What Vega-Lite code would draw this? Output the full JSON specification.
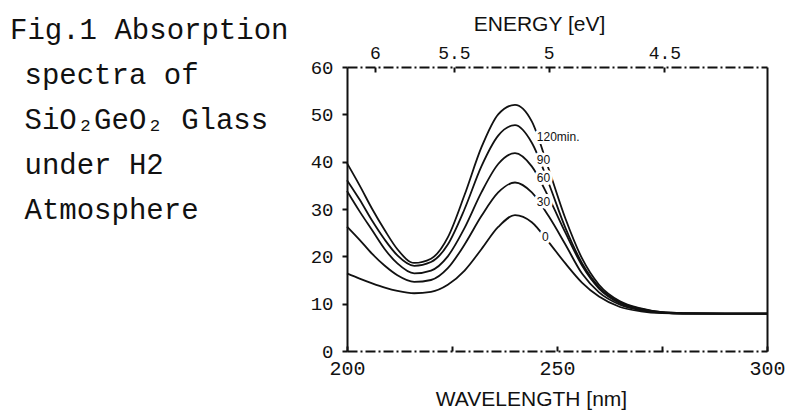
{
  "$schema": "https://vega.github.io/schema/vega-lite/v6.json",
  "width": 420,
  "height": 284,
  "autosize": "none",
  "padding": {"left": 347, "top": 67, "right": 21, "bottom": 61},
  "background": "white",
  "title": {
    "text": ["Fig.1 Absorption", "\u200b\u2002spectra of", "\u200b\u2002SiO\u2082GeO\u2082 Glass", "\u200b\u2002under H2", "\u200b\u2002Atmosphere"],
    "orient": "top",
    "anchor": "start",
    "frame": "group",
    "align": "left",
    "baseline": "top",
    "font": "Liberation Mono",
    "fontSize": 29,
    "fontWeight": "normal",
    "color": "#111111",
    "lineHeight": 45,
    "offset": 0,
    "dx": -337,
    "dy": 212
  },
  "config": {
    "view": {"stroke": null},
    "axis": {"grid": false, "domainColor": "#111111", "tickColor": "#111111", "labelColor": "#111111", "titleColor": "#111111"}
  },
  "datasets": {
    "spectra": [
      {"minutes": 120, "wavelength": 200, "absorption": 39.7},
      {"minutes": 120, "wavelength": 203, "absorption": 35.0},
      {"minutes": 120, "wavelength": 206, "absorption": 30.0},
      {"minutes": 120, "wavelength": 209, "absorption": 25.5},
      {"minutes": 120, "wavelength": 212, "absorption": 21.5},
      {"minutes": 120, "wavelength": 216, "absorption": 18.6},
      {"minutes": 120, "wavelength": 220, "absorption": 19.5},
      {"minutes": 120, "wavelength": 224, "absorption": 24.0},
      {"minutes": 120, "wavelength": 228, "absorption": 33.0},
      {"minutes": 120, "wavelength": 232, "absorption": 43.0},
      {"minutes": 120, "wavelength": 236, "absorption": 50.0},
      {"minutes": 120, "wavelength": 240, "absorption": 52.0},
      {"minutes": 120, "wavelength": 244, "absorption": 48.5},
      {"minutes": 120, "wavelength": 248, "absorption": 38.5},
      {"minutes": 120, "wavelength": 252, "absorption": 28.0},
      {"minutes": 120, "wavelength": 256, "absorption": 19.5},
      {"minutes": 120, "wavelength": 260, "absorption": 14.0},
      {"minutes": 120, "wavelength": 265, "absorption": 10.5},
      {"minutes": 120, "wavelength": 270, "absorption": 9.0},
      {"minutes": 120, "wavelength": 275, "absorption": 8.2},
      {"minutes": 120, "wavelength": 280, "absorption": 8.0},
      {"minutes": 120, "wavelength": 290, "absorption": 7.9},
      {"minutes": 120, "wavelength": 300, "absorption": 7.9},

      {"minutes": 90, "wavelength": 200, "absorption": 36.1},
      {"minutes": 90, "wavelength": 203, "absorption": 32.0},
      {"minutes": 90, "wavelength": 206, "absorption": 27.5},
      {"minutes": 90, "wavelength": 209, "absorption": 23.5},
      {"minutes": 90, "wavelength": 212, "absorption": 20.2},
      {"minutes": 90, "wavelength": 216, "absorption": 18.0},
      {"minutes": 90, "wavelength": 220, "absorption": 18.8},
      {"minutes": 90, "wavelength": 224, "absorption": 22.5},
      {"minutes": 90, "wavelength": 228, "absorption": 30.0},
      {"minutes": 90, "wavelength": 232, "absorption": 39.0},
      {"minutes": 90, "wavelength": 236, "absorption": 45.5},
      {"minutes": 90, "wavelength": 240, "absorption": 47.7},
      {"minutes": 90, "wavelength": 244, "absorption": 44.0},
      {"minutes": 90, "wavelength": 248, "absorption": 35.5},
      {"minutes": 90, "wavelength": 252, "absorption": 26.0},
      {"minutes": 90, "wavelength": 256, "absorption": 18.5},
      {"minutes": 90, "wavelength": 260, "absorption": 13.5},
      {"minutes": 90, "wavelength": 265, "absorption": 10.3},
      {"minutes": 90, "wavelength": 270, "absorption": 8.9},
      {"minutes": 90, "wavelength": 275, "absorption": 8.2},
      {"minutes": 90, "wavelength": 280, "absorption": 8.0},
      {"minutes": 90, "wavelength": 290, "absorption": 7.9},
      {"minutes": 90, "wavelength": 300, "absorption": 7.9},

      {"minutes": 60, "wavelength": 200, "absorption": 33.8},
      {"minutes": 60, "wavelength": 203, "absorption": 29.5},
      {"minutes": 60, "wavelength": 206, "absorption": 25.5},
      {"minutes": 60, "wavelength": 209, "absorption": 21.5},
      {"minutes": 60, "wavelength": 212, "absorption": 18.5},
      {"minutes": 60, "wavelength": 216, "absorption": 16.4},
      {"minutes": 60, "wavelength": 220, "absorption": 17.0},
      {"minutes": 60, "wavelength": 224, "absorption": 20.0},
      {"minutes": 60, "wavelength": 228, "absorption": 26.0},
      {"minutes": 60, "wavelength": 232, "absorption": 33.5},
      {"minutes": 60, "wavelength": 236, "absorption": 39.5},
      {"minutes": 60, "wavelength": 240, "absorption": 41.8},
      {"minutes": 60, "wavelength": 244, "absorption": 39.0},
      {"minutes": 60, "wavelength": 248, "absorption": 32.5},
      {"minutes": 60, "wavelength": 252, "absorption": 25.0},
      {"minutes": 60, "wavelength": 256, "absorption": 18.0},
      {"minutes": 60, "wavelength": 260, "absorption": 13.2},
      {"minutes": 60, "wavelength": 265, "absorption": 10.1},
      {"minutes": 60, "wavelength": 270, "absorption": 8.8},
      {"minutes": 60, "wavelength": 275, "absorption": 8.1},
      {"minutes": 60, "wavelength": 280, "absorption": 7.9},
      {"minutes": 60, "wavelength": 290, "absorption": 7.9},
      {"minutes": 60, "wavelength": 300, "absorption": 7.9},

      {"minutes": 30, "wavelength": 200, "absorption": 26.3},
      {"minutes": 30, "wavelength": 203, "absorption": 23.5},
      {"minutes": 30, "wavelength": 206, "absorption": 20.5},
      {"minutes": 30, "wavelength": 209, "absorption": 18.0},
      {"minutes": 30, "wavelength": 212, "absorption": 16.0},
      {"minutes": 30, "wavelength": 216, "absorption": 14.6},
      {"minutes": 30, "wavelength": 220, "absorption": 15.0},
      {"minutes": 30, "wavelength": 224, "absorption": 17.5},
      {"minutes": 30, "wavelength": 228, "absorption": 22.5},
      {"minutes": 30, "wavelength": 232, "absorption": 28.5},
      {"minutes": 30, "wavelength": 236, "absorption": 33.5},
      {"minutes": 30, "wavelength": 240, "absorption": 35.6},
      {"minutes": 30, "wavelength": 244, "absorption": 33.5},
      {"minutes": 30, "wavelength": 248, "absorption": 28.5},
      {"minutes": 30, "wavelength": 252, "absorption": 22.5},
      {"minutes": 30, "wavelength": 256, "absorption": 16.3},
      {"minutes": 30, "wavelength": 260, "absorption": 12.4},
      {"minutes": 30, "wavelength": 265, "absorption": 9.8},
      {"minutes": 30, "wavelength": 270, "absorption": 8.6},
      {"minutes": 30, "wavelength": 275, "absorption": 8.1},
      {"minutes": 30, "wavelength": 280, "absorption": 7.9},
      {"minutes": 30, "wavelength": 290, "absorption": 7.9},
      {"minutes": 30, "wavelength": 300, "absorption": 7.9},

      {"minutes": 0, "wavelength": 200, "absorption": 16.4},
      {"minutes": 0, "wavelength": 203, "absorption": 15.3},
      {"minutes": 0, "wavelength": 206, "absorption": 14.3},
      {"minutes": 0, "wavelength": 209, "absorption": 13.4},
      {"minutes": 0, "wavelength": 212, "absorption": 12.7},
      {"minutes": 0, "wavelength": 216, "absorption": 12.2},
      {"minutes": 0, "wavelength": 220, "absorption": 12.5},
      {"minutes": 0, "wavelength": 224, "absorption": 14.0},
      {"minutes": 0, "wavelength": 228, "absorption": 17.0},
      {"minutes": 0, "wavelength": 232, "absorption": 21.5},
      {"minutes": 0, "wavelength": 236, "absorption": 26.2},
      {"minutes": 0, "wavelength": 240, "absorption": 28.7},
      {"minutes": 0, "wavelength": 244, "absorption": 27.2},
      {"minutes": 0, "wavelength": 248, "absorption": 23.0},
      {"minutes": 0, "wavelength": 252, "absorption": 18.5},
      {"minutes": 0, "wavelength": 256, "absorption": 14.4},
      {"minutes": 0, "wavelength": 260, "absorption": 11.5},
      {"minutes": 0, "wavelength": 265, "absorption": 9.3},
      {"minutes": 0, "wavelength": 270, "absorption": 8.4},
      {"minutes": 0, "wavelength": 275, "absorption": 8.0},
      {"minutes": 0, "wavelength": 280, "absorption": 7.9},
      {"minutes": 0, "wavelength": 290, "absorption": 7.9},
      {"minutes": 0, "wavelength": 300, "absorption": 7.9}
    ],
    "tags": [
      {"tag": "120min.", "wavelength": 245.2, "absorption": 45.2},
      {"tag": "90", "wavelength": 245.2, "absorption": 40.4},
      {"tag": "60", "wavelength": 245.2, "absorption": 36.5},
      {"tag": "30", "wavelength": 245.2, "absorption": 31.5},
      {"tag": "0", "wavelength": 246.4, "absorption": 24.1}
    ]
  },
  "layer": [
    {
      "data": {"name": "spectra"},
      "mark": {"type": "line", "interpolate": "monotone", "color": "#111111", "strokeWidth": 1.8},
      "encoding": {
        "x": {
          "field": "wavelength", "type": "quantitative",
          "scale": {"domain": [200, 300], "nice": false, "zero": false},
          "axis": {
            "orient": "bottom",
            "values": [200, 225, 250, 275, 300],
            "labelExpr": "datum.value % 50 == 0 ? datum.label : ''",
            "labelFlush": false,
            "labelFont": "Liberation Mono",
            "labelFontSize": 20,
            "labelPadding": 12,
            "tickSize": -5,
            "tickWidth": 2,
            "domainWidth": 2,
            "domainDash": [10, 3, 2, 3],
            "title": "WAVELENGTH [nm]",
            "titleFont": "Liberation Sans",
            "titleFontSize": 21,
            "titleFontWeight": "normal",
            "titleX": 184,
            "titlePadding": 10
          }
        },
        "y": {
          "field": "absorption", "type": "quantitative",
          "scale": {"domain": [0, 60], "nice": false},
          "axis": {
            "orient": "left",
            "values": [0, 10, 20, 30, 40, 50, 60],
            "labelFont": "Liberation Mono",
            "labelFontSize": 19,
            "labelPadding": 9,
            "tickSize": 5,
            "tickWidth": 2,
            "domainWidth": 2,
            "title": null
          }
        },
        "detail": {"field": "minutes", "type": "nominal"}
      }
    },
    {
      "data": {"name": "tags"},
      "mark": {"type": "text", "align": "left", "baseline": "middle", "font": "Liberation Sans", "fontSize": 12, "fill": "white", "stroke": "white", "strokeWidth": 6},
      "encoding": {
        "x": {
          "field": "wavelength", "type": "quantitative",
          "scale": {"domain": [200, 300], "nice": false, "zero": false},
          "axis": {
            "orient": "top",
            "values": [206.667, 225.4545, 248, 275.5556],
            "labelExpr": "format(1240 / datum.value, '.1~f')",
            "labelFlush": false,
            "labelFont": "Liberation Mono",
            "labelFontSize": 18,
            "labelPadding": 10,
            "tickSize": -5,
            "tickWidth": 2,
            "domainWidth": 2,
            "domainDash": [10, 3, 2, 3],
            "title": "ENERGY [eV]",
            "titleFont": "Liberation Sans",
            "titleFontSize": 21,
            "titleFontWeight": "normal",
            "titleX": 192,
            "titlePadding": 10
          }
        },
        "y": {
          "field": "absorption", "type": "quantitative",
          "scale": {"domain": [0, 60], "nice": false},
          "axis": {
            "orient": "right",
            "labels": false,
            "ticks": false,
            "domainWidth": 2,
            "title": null
          }
        },
        "text": {"field": "tag"}
      }
    },
    {
      "data": {"name": "tags"},
      "mark": {"type": "text", "align": "left", "baseline": "middle", "font": "Liberation Sans", "fontSize": 12, "color": "#111111"},
      "encoding": {
        "x": {"field": "wavelength", "type": "quantitative", "scale": {"domain": [200, 300], "nice": false, "zero": false}, "axis": null},
        "y": {"field": "absorption", "type": "quantitative", "scale": {"domain": [0, 60], "nice": false}, "axis": null},
        "text": {"field": "tag"}
      }
    }
  ],
  "resolve": {"axis": {"x": "independent", "y": "independent"}}
}
